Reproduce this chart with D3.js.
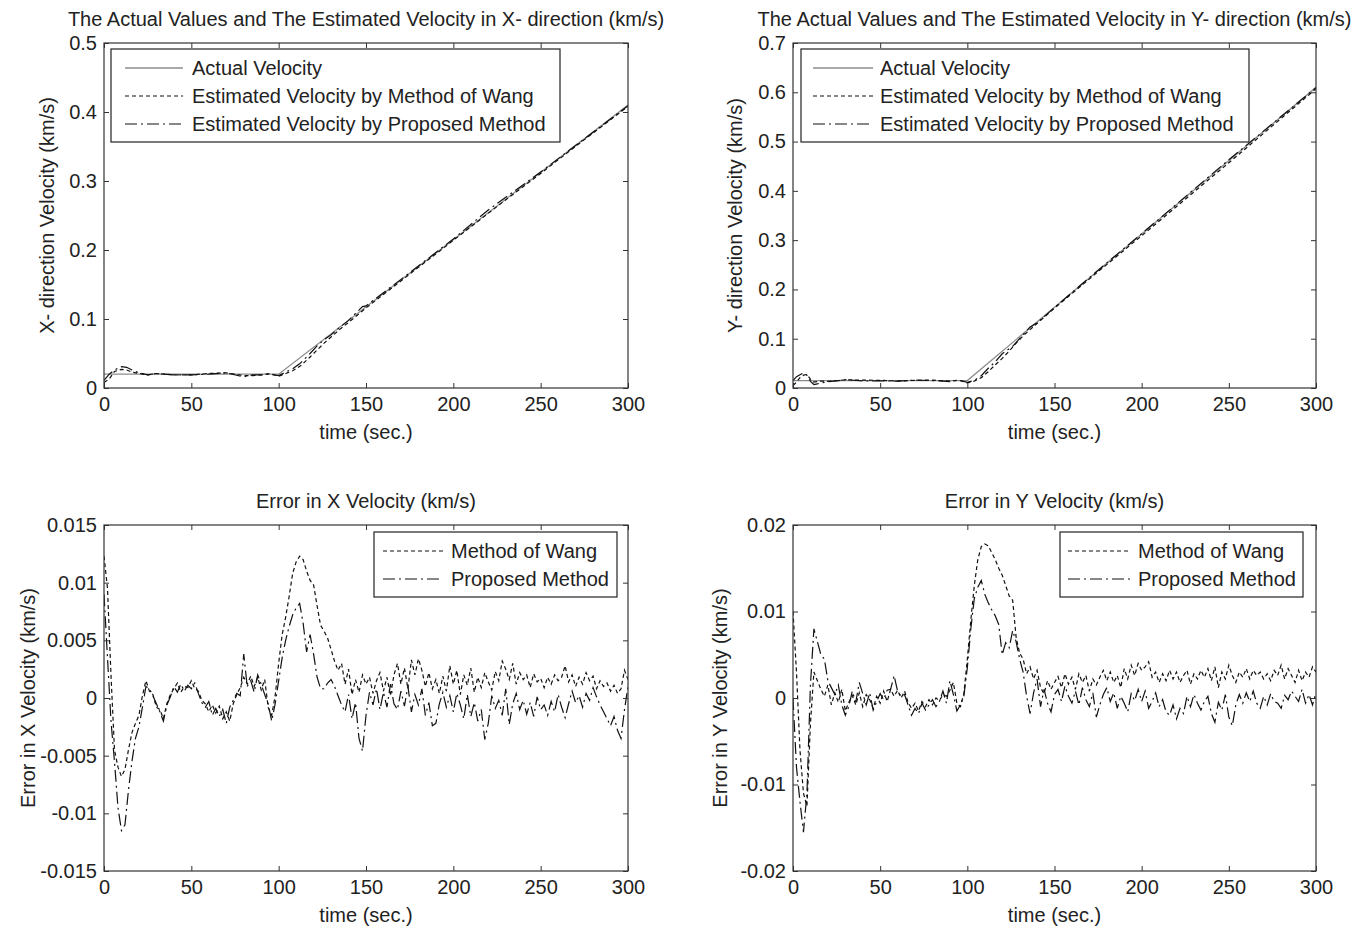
<!DOCTYPE html>
<html>
<head>
<meta charset="utf-8">
<script src="https://cdn.jsdelivr.net/npm/d3@7"></script>
<style>
body { margin: 0; background: #fff; }
svg text { font-family: "Liberation Sans", Arial, sans-serif; fill: #222; }
</style>
</head>
<body>
<svg id="fig" width="1366" height="926"></svg>
<script>
// ---- data ----
var timeTicks = [0, 50, 100, 150, 200, 250, 300];
var velXTicks = [0, 0.1, 0.2, 0.3, 0.4, 0.5];
var velXTickLabels = ["0", "0.1", "0.2", "0.3", "0.4", "0.5"];
var velYTicks = [0, 0.1, 0.2, 0.3, 0.4, 0.5, 0.6, 0.7];
var velYTickLabels = ["0", "0.1", "0.2", "0.3", "0.4", "0.5", "0.6", "0.7"];
var errXTicks = [-0.015, -0.01, -0.005, 0, 0.005, 0.01, 0.015];
var errXTickLabels = ["-0.015", "-0.01", "-0.005", "0", "0.005", "0.01", "0.015"];
var errYTicks = [-0.02, -0.01, 0, 0.01, 0.02];
var errYTickLabels = ["-0.02", "-0.01", "0", "0.01", "0.02"];

// X velocity (km/s)
var velXActT = [0, 100, 300];
var velXActV = [0.020, 0.020, 0.410];
var velXWangT = [0, 3, 6, 10, 13, 16, 20, 25, 30, 40, 50, 60, 70, 80, 85, 90, 95, 100, 104, 108, 113, 118, 122, 126, 130, 135, 140, 150, 175, 200, 225, 250, 275, 300];
var velXWangV = [0.008, 0.013, 0.024, 0.027, 0.026, 0.023, 0.021, 0.019, 0.021, 0.019, 0.019, 0.021, 0.022, 0.018, 0.018, 0.019, 0.021, 0.017, 0.021, 0.025, 0.033, 0.045, 0.055, 0.065, 0.074, 0.085, 0.095, 0.116, 0.165, 0.214, 0.263, 0.311, 0.360, 0.408];
var velXPropT = [0, 3, 6, 10, 13, 16, 20, 25, 30, 40, 50, 60, 70, 80, 85, 90, 95, 100, 104, 108, 112, 118, 122, 126, 130, 135, 140, 148, 150, 175, 200, 220, 250, 275, 300];
var velXPropV = [0.011, 0.020, 0.026, 0.031, 0.030, 0.026, 0.022, 0.019, 0.021, 0.019, 0.019, 0.020, 0.022, 0.016, 0.019, 0.019, 0.020, 0.018, 0.023, 0.028, 0.035, 0.050, 0.061, 0.070, 0.077, 0.088, 0.098, 0.118, 0.119, 0.167, 0.216, 0.258, 0.313, 0.361, 0.409];

// Y velocity (km/s)
var velYActT = [0, 100, 300];
var velYActV = [0.015, 0.015, 0.610];
var velYWangT = [0, 2, 4, 6, 8, 10, 12, 16, 20, 30, 40, 50, 60, 70, 80, 90, 95, 100, 104, 108, 112, 116, 120, 124, 128, 132, 140, 150, 175, 200, 250, 300];
var velYWangV = [0.005, 0.012, 0.021, 0.026, 0.0275, 0.018, 0.012, 0.014, 0.0135, 0.0165, 0.016, 0.0156, 0.014, 0.0156, 0.016, 0.014, 0.016, 0.0105, 0.014, 0.021, 0.033, 0.047, 0.060, 0.075, 0.091, 0.106, 0.131, 0.162, 0.236, 0.309, 0.457, 0.607];
var velYPropT = [0, 2, 4, 6, 8, 10, 12, 14, 16, 20, 25, 30, 40, 50, 60, 70, 80, 90, 95, 100, 104, 108, 112, 116, 120, 126, 130, 136, 140, 150, 175, 200, 250, 300];
var velYPropV = [0.015, 0.023, 0.027, 0.0305, 0.026, 0.0135, 0.007, 0.0085, 0.010, 0.013, 0.0145, 0.017, 0.0145, 0.0145, 0.014, 0.016, 0.015, 0.013, 0.016, 0.0115, 0.0154, 0.025, 0.040, 0.053, 0.0695, 0.0846, 0.100, 0.124, 0.132, 0.1634, 0.239, 0.313, 0.463, 0.6095];

// errors, sampled every 2 s from 0 to 300, in units of 1e-3 km/s
var errTime = d3.range(0, 301, 2);
var errXWang = [12.3, 9.5, 2.0, -4.5, -6.0, -6.8, -6.2, -4.5, -3.0, -2.2, -1.5, 0.2, 1.5, 0.6, 0.3, -0.8, -1.0, -1.8, -0.5, 0.3,
  0.8, 1.3, 0.5, 1.0, 0.9, 1.5, 0.8, 0.6, -0.2, -0.5, -1.2, -0.6, -1.3, -0.7, -1.8, -1.2, -2.0, -0.5, 0.3, 0.9,
  1.8, 1.2, 1.9, 1.0, 1.8, 0.7, 1.6, -0.8, -1.5, 0.2, 3.0, 5.5, 7.0, 8.8, 10.8, 11.8, 12.3, 12.0, 11.0, 10.2,
  9.8, 8.0, 6.3, 5.8, 5.2, 4.2, 3.2, 2.4, 3.0, 1.2, 2.5, 0.3, 1.6, 0.5, 2.0, 1.2, 1.8, 0.4, 1.5, 2.2,
  0.6, 1.8, 0.2, 2.0, 3.0, 1.2, 2.6, 0.8, 3.3, 2.0, 3.4, 2.4, 1.0, 2.2, 0.8, 1.6, 0.4, 1.9, 0.6, 2.8,
  1.2, 2.4, 0.3, 2.0, 1.1, 2.6, 0.5, 1.8, 0.9, 2.2, 1.4, 0.7, 2.3, 1.5, 3.2, 2.5, 1.6, 3.0, 1.2, 2.2,
  1.6, 2.0, 0.9, 2.1, 1.4, 1.7, 0.9, 1.8, 1.2, 2.0, 1.5, 1.8, 2.8, 1.4, 2.0, 1.0, 1.8, 1.2, 2.2, 1.5,
  1.9, 0.8, 1.5, 1.0, 1.3, 0.6, 1.1, 0.4, 0.8, 2.4, 1.6];
var errXProp = [9.0, 3.5, -2.0, -5.5, -9.5, -11.5, -11.0, -8.0, -5.5, -3.5, -2.5, -0.8, 1.0, 0.8, 0.2, -0.5, -1.2, -2.0, -0.6, 0.1,
  1.0, 0.5, 1.2, 0.6, 1.1, 0.8, 1.3, 0.4, -0.4, -0.8, -0.3, -1.5, -0.9, -1.6, -1.0, -2.2, -0.8, -0.2, 0.4, 0.2,
  3.8, 1.0, 1.5, 0.5, 2.0, 1.2, 0.3, -0.5, -2.0, -0.5, 1.5, 3.5, 5.0, 6.2, 7.2, 7.8, 8.2, 6.5, 4.0, 5.5,
  3.8, 1.8, 0.8, 0.8, 1.3, 1.6, 1.0, 0.2, -0.6, -1.2, 0.3, -1.8, -0.4, -3.5, -4.6, -1.5, 0.5, -0.6, 0.8, -1.0,
  0.5, -0.8, 1.2, -0.5, -1.0, 0.6, -0.7, 1.0, -1.2, 0.3, -0.6, 0.8, -1.5, -0.4, -2.4, -2.2, -0.5, 0.5, -0.8, 0.2,
  -1.2, 0.4, -0.6, -1.8, 0.3, -1.6, -0.4, -2.0, -1.0, -3.6, -2.2, 0.2, -0.9, -0.2, -1.5, 0.8, -2.3, -0.5, 0.4, -1.0,
  -0.2, -1.4, -0.4, -1.6, 0.1, -1.0, -0.6, -1.5, -0.3, -1.2, 0.3, -0.8, -1.7, -0.5, 0.6, -0.4, 0.2, -0.8, 0.4, -0.2,
  0.9, 0.1, -0.6, -1.2, -1.8, -2.4, -1.6, -2.8, -3.5, -1.0, 1.0];
var errYWang = [10.0, 3.0, -6.0, -11.0, -12.5, -3.0, 3.0, 2.0, 1.0, 0.2, 1.5, -0.8, 0.6, -0.5, 1.0, -1.5, -0.5, 0.3, -0.8, 0.6,
  -1.0, 0.4, -0.2, -1.2, 0.2, -0.6, 0.8, -0.4, 1.0, 0.2, 0.9, 0.0, 0.8, -0.5, -1.2, -0.6, -1.5, -0.4, -1.0, -0.2,
  -0.8, 0.0, -0.3, 0.4, 0.2, 0.9, 1.8, -0.6, -1.0, 0.5, 4.5, 9.0, 13.0, 16.0, 17.5, 17.8, 17.6, 16.8, 16.0, 15.0,
  14.2, 13.0, 11.8, 11.3, 7.0, 5.2, 4.5, 2.8, 3.6, 2.2, 3.2, 1.2, 0.5, 2.0, 1.0, 1.8, 2.5, 1.2, 2.8, 1.6,
  2.4, 1.0, 2.8, 1.8, 2.6, 0.8, 2.2, 1.5, 2.4, 3.2, 2.0, 3.0, 1.8, 2.6, 1.2, 3.4, 2.2, 3.8, 2.6, 4.0,
  3.2, 3.6, 4.2, 2.4, 3.0, 1.8, 2.8, 2.0, 3.2, 2.2, 3.0, 1.8, 2.6, 3.2, 1.6, 2.8, 2.2, 3.2, 2.4, 3.4,
  2.0, 3.6, 1.2, 3.0, 2.2, 3.8, 2.6, 1.8, 3.0, 2.4, 3.4, 2.2, 3.2, 2.6, 3.0, 2.2, 2.8, 2.0, 3.2, 2.6,
  3.8, 2.2, 3.4, 2.6, 1.8, 3.2, 2.0, 3.0, 2.4, 3.6, 3.0];
var errYProp = [0.0, -8.0, -12.0, -15.5, -11.0, 1.5, 8.0, 6.5, 5.0, 4.5, 2.0, 1.2, 0.4, 1.5, -0.8, -2.0, -1.0, 0.8, -0.5, 1.8,
  0.5, -0.8, 0.6, -1.4, -0.4, 0.5, -0.2, 0.9, 1.0, 2.6, 0.8, 0.2, 0.4, -0.8, -2.0, -1.2, -1.8, -0.6, -1.4, -0.8,
  -0.2, -1.0, -0.4, 0.8, -0.6, 2.0, 0.4, -1.5, -0.8, 0.2, 3.5, 8.0, 11.5, 12.8, 13.6, 12.0, 11.0, 10.2, 9.5, 8.5,
  5.0, 6.4, 5.8, 7.8, 6.5, 4.5, 3.0, 0.2, -1.8, 0.6, 2.2, -1.0, 1.0, -0.6, -1.6, 0.4, 1.0, -0.4, 1.4, 0.2,
  -0.6, 0.8, -0.8, 1.2, -0.2, -1.0, 0.6, -2.2, -0.8, 0.4, 1.2, -0.4, 0.6, -1.2, 0.2, -0.6, -1.6, 0.5, -0.3, 1.0,
  -0.4, 0.8, -1.2, -0.4, 0.6, -1.0, -0.2, -1.6, -2.0, -0.8, -2.4, -1.2, -1.8, 0.2, -1.0, 0.4, -0.6, -1.4, -0.4, 0.2,
  -1.8, -2.8, -0.5, -1.4, 0.4, -2.2, -3.2, -0.8, 0.4, -0.6, 0.6, -0.4, 0.8, -0.6, -1.2, 0.2, -0.8, 0.5, -0.4, -0.6,
  -1.2, 0.3, -0.2, 0.8, 0.2, -0.4, 1.0, -0.6, 0.4, -0.8, 0.6];

// ---- drawing ----
var svg = d3.select("#fig");
var DOT = "4,3";
var DASHDOT = "12,4,2,4";
var FS = 20;

function panel(p) {
  var g = svg.append("g");
  var x = d3.scaleLinear().domain([0, 300]).range([p.left, p.right]);
  var y = d3.scaleLinear().domain(p.yDomain).range([p.bottom, p.top]);

  var clipId = "clip" + p.id;
  g.append("clipPath").attr("id", clipId).append("rect")
    .attr("x", p.left).attr("y", p.top)
    .attr("width", p.right - p.left).attr("height", p.bottom - p.top);

  var line = d3.line().x(function(d) { return x(d[0]); }).y(function(d) { return y(d[1]); });
  p.series.forEach(function(s) {
    var k = s.k || 1;
    var pts = s.t.map(function(t, i) { return [t, s.v[i] * k]; });
    g.append("path").datum(pts)
      .attr("clip-path", "url(#" + clipId + ")")
      .attr("fill", "none")
      .attr("stroke", s.color)
      .attr("stroke-width", s.width || 1.2)
      .attr("stroke-dasharray", s.dash || null)
      .attr("d", line);
  });

  // axes, ticks pointing inward on all four sides
  var fmtX = function(d) { return d; };
  var fmtY = function(d, i) { return p.yLabels[i]; };
  g.append("g").attr("transform", "translate(0," + p.bottom + ")")
    .call(d3.axisBottom(x).tickValues(timeTicks).tickFormat(fmtX).tickSizeInner(-5).tickSizeOuter(0).tickPadding(9));
  g.append("g").attr("transform", "translate(0," + p.top + ")")
    .call(d3.axisTop(x).tickValues(timeTicks).tickFormat("").tickSizeInner(-5).tickSizeOuter(0));
  g.append("g").attr("transform", "translate(" + p.left + ",0)")
    .call(d3.axisLeft(y).tickValues(p.yTicks).tickFormat(fmtY).tickSizeInner(-5).tickSizeOuter(0).tickPadding(7));
  g.append("g").attr("transform", "translate(" + p.right + ",0)")
    .call(d3.axisRight(y).tickValues(p.yTicks).tickFormat("").tickSizeInner(-5).tickSizeOuter(0));
  g.selectAll(".domain").remove();
  g.selectAll(".tick line").attr("stroke", "#333");
  g.selectAll(".tick text").attr("font-size", FS).attr("font-family", null).style("fill", "#222");

  g.append("rect").attr("x", p.left).attr("y", p.top)
    .attr("width", p.right - p.left).attr("height", p.bottom - p.top)
    .attr("fill", "none").attr("stroke", "#333").attr("stroke-width", 1.2);

  // texts
  var cx = (p.left + p.right) / 2;
  g.append("text").attr("x", cx).attr("y", p.titleY).attr("text-anchor", "middle")
    .attr("dy", "0.35em").attr("font-size", FS).text(p.title);
  g.append("text").attr("x", cx).attr("y", p.bottom + 44).attr("text-anchor", "middle")
    .attr("dy", "0.35em").attr("font-size", FS).text("time (sec.)");
  g.append("text").attr("transform", "translate(" + p.ylabelX + "," + ((p.top + p.bottom) / 2) + ") rotate(-90)")
    .attr("text-anchor", "middle").attr("dy", "0.35em").attr("font-size", FS).text(p.ylabel);

  // legend
  var L = p.legend;
  var lg = g.append("g");
  lg.append("rect").attr("x", L.x0).attr("y", L.y0)
    .attr("width", L.x1 - L.x0).attr("height", L.y1 - L.y0)
    .attr("fill", "#fff").attr("stroke", "#222").attr("stroke-width", 1.2);
  L.items.forEach(function(it, i) {
    var yy = L.rowY[i];
    lg.append("line").attr("x1", L.lineX0).attr("x2", L.lineX1).attr("y1", yy).attr("y2", yy)
      .attr("stroke", it.color).attr("stroke-width", it.width || 1.2)
      .attr("stroke-dasharray", it.dash || null);
    lg.append("text").attr("x", L.textX).attr("y", yy).attr("dy", "0.35em")
      .attr("font-size", FS).text(it.label);
  });
}

var actualStyle = { color: "#8c8c8c", width: 1.3, dash: null };

panel({
  id: 1, left: 104, right: 628, top: 43, bottom: 388,
  yDomain: [0, 0.5], yTicks: velXTicks, yLabels: velXTickLabels,
  title: "The Actual Values and The Estimated Velocity in X- direction (km/s)", titleY: 19,
  ylabel: "X- direction Velocity (km/s)", ylabelX: 47,
  series: [
    { t: velXActT, v: velXActV, color: actualStyle.color, width: actualStyle.width },
    { t: velXWangT, v: velXWangV, color: "#111", dash: DOT },
    { t: velXPropT, v: velXPropV, color: "#111", dash: DASHDOT }
  ],
  legend: { x0: 111, y0: 49, x1: 560, y1: 142, lineX0: 125, lineX1: 183, textX: 192, rowY: [68, 96, 124],
    items: [
      { label: "Actual Velocity", color: actualStyle.color, width: actualStyle.width },
      { label: "Estimated Velocity by Method of Wang", color: "#111", dash: DOT },
      { label: "Estimated Velocity by Proposed Method", color: "#111", dash: DASHDOT }
    ] }
});

panel({
  id: 2, left: 793, right: 1316, top: 43, bottom: 388,
  yDomain: [0, 0.7], yTicks: velYTicks, yLabels: velYTickLabels,
  title: "The Actual Values and The Estimated Velocity in Y- direction (km/s)", titleY: 19,
  ylabel: "Y- direction Velocity (km/s)", ylabelX: 735,
  series: [
    { t: velYActT, v: velYActV, color: actualStyle.color, width: actualStyle.width },
    { t: velYWangT, v: velYWangV, color: "#111", dash: DOT },
    { t: velYPropT, v: velYPropV, color: "#111", dash: DASHDOT }
  ],
  legend: { x0: 801, y0: 49, x1: 1249, y1: 142, lineX0: 813, lineX1: 873, textX: 880, rowY: [68, 96, 124],
    items: [
      { label: "Actual Velocity", color: actualStyle.color, width: actualStyle.width },
      { label: "Estimated Velocity by Method of Wang", color: "#111", dash: DOT },
      { label: "Estimated Velocity by Proposed Method", color: "#111", dash: DASHDOT }
    ] }
});

panel({
  id: 3, left: 104, right: 628, top: 525, bottom: 871,
  yDomain: [-0.015, 0.015], yTicks: errXTicks, yLabels: errXTickLabels,
  title: "Error in X Velocity (km/s)", titleY: 501,
  ylabel: "Error in X Velocity (km/s)", ylabelX: 28,
  series: [
    { t: errTime, v: errXWang, k: 0.001, color: "#111", dash: DOT },
    { t: errTime, v: errXProp, k: 0.001, color: "#111", dash: DASHDOT }
  ],
  legend: { x0: 374, y0: 532, x1: 617, y1: 597, lineX0: 383, lineX1: 443, textX: 451, rowY: [551, 579],
    items: [
      { label: "Method of Wang", color: "#111", dash: DOT },
      { label: "Proposed Method", color: "#111", dash: DASHDOT }
    ] }
});

panel({
  id: 4, left: 793, right: 1316, top: 525, bottom: 871,
  yDomain: [-0.02, 0.02], yTicks: errYTicks, yLabels: errYTickLabels,
  title: "Error in Y Velocity (km/s)", titleY: 501,
  ylabel: "Error in Y Velocity (km/s)", ylabelX: 720,
  series: [
    { t: errTime, v: errYWang, k: 0.001, color: "#111", dash: DOT },
    { t: errTime, v: errYProp, k: 0.001, color: "#111", dash: DASHDOT }
  ],
  legend: { x0: 1060, y0: 532, x1: 1303, y1: 597, lineX0: 1068, lineX1: 1130, textX: 1138, rowY: [551, 579],
    items: [
      { label: "Method of Wang", color: "#111", dash: DOT },
      { label: "Proposed Method", color: "#111", dash: DASHDOT }
    ] }
});
</script>
</body>
</html>
